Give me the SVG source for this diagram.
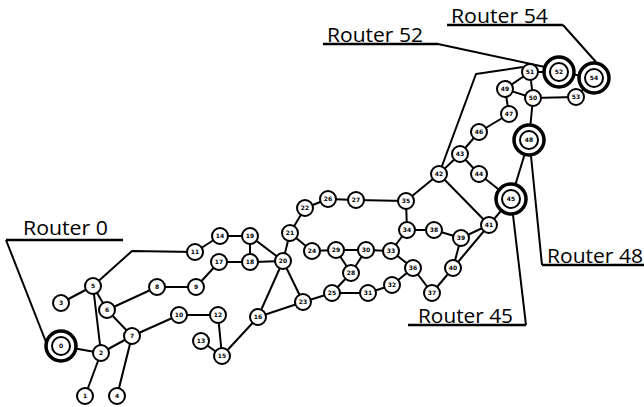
<svg xmlns="http://www.w3.org/2000/svg" width="644" height="407" viewBox="0 0 644 407">
<style>
.e{stroke:#000;stroke-width:2;fill:none;stroke-linejoin:round}
.c{stroke:#000;stroke-width:2;fill:none}
.n circle{fill:#fff;stroke:#000;stroke-width:2}
.n text{font-family:"DejaVu Sans",sans-serif;font-size:6px;font-weight:bold;text-anchor:middle;fill:#000}
.r .ring{stroke-width:3.5}
.lbl{font-family:"Open Sans","Liberation Sans",sans-serif;font-size:20px;fill:#000}
.ul{stroke:#000;stroke-width:2.5}
</style>
<rect width="644" height="407" fill="#fff"/>
<g id="connectors">
<line class="e" x1="61" y1="346" x2="101" y2="353"/>
<line class="e" x1="85" y1="396" x2="101" y2="353"/>
<line class="e" x1="101" y1="353" x2="93" y2="286"/>
<line class="e" x1="101" y1="353" x2="132" y2="336"/>
<line class="e" x1="61" y1="303" x2="93" y2="286"/>
<line class="e" x1="93" y1="286" x2="107" y2="310"/>
<line class="e" x1="107" y1="310" x2="132" y2="336"/>
<line class="e" x1="107" y1="310" x2="157" y2="287"/>
<line class="e" x1="117" y1="396" x2="132" y2="336"/>
<line class="e" x1="132" y1="336" x2="179" y2="315"/>
<polyline class="e" points="93,286 132,251 195,252"/>
<line class="e" x1="157" y1="287" x2="196" y2="287"/>
<line class="e" x1="196" y1="287" x2="219" y2="262"/>
<line class="e" x1="179" y1="315" x2="218" y2="315"/>
<line class="e" x1="218" y1="315" x2="222" y2="356"/>
<line class="e" x1="201" y1="341" x2="222" y2="356"/>
<line class="e" x1="222" y1="356" x2="258" y2="317"/>
<line class="e" x1="258" y1="317" x2="283" y2="261"/>
<line class="e" x1="258" y1="317" x2="303" y2="302"/>
<line class="e" x1="195" y1="252" x2="220" y2="236"/>
<line class="e" x1="220" y1="236" x2="250" y2="236"/>
<line class="e" x1="250" y1="236" x2="250" y2="262"/>
<line class="e" x1="250" y1="236" x2="283" y2="261"/>
<line class="e" x1="219" y1="262" x2="250" y2="262"/>
<line class="e" x1="250" y1="262" x2="283" y2="261"/>
<line class="e" x1="283" y1="261" x2="290" y2="233"/>
<line class="e" x1="283" y1="261" x2="303" y2="302"/>
<line class="e" x1="290" y1="233" x2="305" y2="208"/>
<line class="e" x1="290" y1="233" x2="312" y2="251"/>
<line class="e" x1="305" y1="208" x2="328" y2="199"/>
<line class="e" x1="328" y1="199" x2="356" y2="200"/>
<line class="e" x1="356" y1="200" x2="406" y2="201"/>
<line class="e" x1="312" y1="251" x2="336" y2="250"/>
<line class="e" x1="336" y1="250" x2="366" y2="250"/>
<line class="e" x1="336" y1="250" x2="351" y2="273"/>
<line class="e" x1="351" y1="273" x2="366" y2="250"/>
<line class="e" x1="332" y1="293" x2="351" y2="273"/>
<line class="e" x1="303" y1="302" x2="332" y2="293"/>
<line class="e" x1="332" y1="293" x2="368" y2="293"/>
<line class="e" x1="368" y1="293" x2="392" y2="285"/>
<line class="e" x1="392" y1="285" x2="413" y2="268"/>
<line class="e" x1="366" y1="250" x2="391" y2="251"/>
<line class="e" x1="391" y1="251" x2="407" y2="230"/>
<line class="e" x1="391" y1="251" x2="413" y2="268"/>
<line class="e" x1="407" y1="230" x2="406" y2="201"/>
<line class="e" x1="407" y1="230" x2="434" y2="230"/>
<line class="e" x1="434" y1="230" x2="461" y2="238"/>
<line class="e" x1="461" y1="238" x2="453" y2="268"/>
<line class="e" x1="461" y1="238" x2="489" y2="225"/>
<line class="e" x1="453" y1="268" x2="489" y2="225"/>
<line class="e" x1="413" y1="268" x2="432" y2="293"/>
<line class="e" x1="432" y1="293" x2="453" y2="268"/>
<line class="e" x1="406" y1="201" x2="439" y2="174"/>
<line class="e" x1="439" y1="174" x2="489" y2="225"/>
<line class="e" x1="439" y1="174" x2="460" y2="154"/>
<line class="e" x1="460" y1="154" x2="479" y2="174"/>
<line class="e" x1="479" y1="174" x2="511" y2="199"/>
<line class="e" x1="511" y1="199" x2="489" y2="225"/>
<line class="e" x1="460" y1="154" x2="479" y2="132"/>
<line class="e" x1="479" y1="132" x2="509" y2="114"/>
<line class="e" x1="509" y1="114" x2="505" y2="89"/>
<line class="e" x1="505" y1="89" x2="530" y2="72"/>
<line class="e" x1="505" y1="89" x2="533" y2="98"/>
<line class="e" x1="533" y1="98" x2="530" y2="72"/>
<line class="e" x1="530" y1="72" x2="559" y2="72"/>
<line class="e" x1="533" y1="98" x2="576" y2="97"/>
<line class="e" x1="533" y1="98" x2="529" y2="140"/>
<line class="e" x1="529" y1="140" x2="511" y2="199"/>
<line class="e" x1="559" y1="72" x2="594" y2="78"/>
<line class="e" x1="576" y1="97" x2="594" y2="78"/>
<polyline class="e" points="439,174 476,74 523,67"/>
</g>
<g id="callouts">
<polyline class="c" points="6,240 46,342"/>
<line class="ul" x1="6" y1="240" x2="123" y2="240"/>
<text class="lbl" x="23" y="235" textLength="85" lengthAdjust="spacingAndGlyphs">Router 0</text>
<polyline class="c" points="438,44 545,67"/>
<line class="ul" x1="323" y1="44" x2="438" y2="44"/>
<text class="lbl" x="327" y="42" textLength="96" lengthAdjust="spacingAndGlyphs">Router 52</text>
<polyline class="c" points="563,25 596,62"/>
<line class="ul" x1="447" y1="25" x2="563" y2="25"/>
<text class="lbl" x="451" y="23" textLength="97" lengthAdjust="spacingAndGlyphs">Router 54</text>
<polyline class="c" points="542,265 531,156"/>
<line class="ul" x1="542" y1="265" x2="644" y2="265"/>
<text class="lbl" x="547" y="263" textLength="96" lengthAdjust="spacingAndGlyphs">Router 48</text>
<polyline class="c" points="526,325 513,215"/>
<line class="ul" x1="408" y1="325" x2="526" y2="325"/>
<text class="lbl" x="418" y="323" textLength="95" lengthAdjust="spacingAndGlyphs">Router 45</text>
</g>
<g id="node0" class="n r"><circle class="ring" cx="61" cy="346" r="15"/><circle cx="61" cy="346" r="9"/><text x="61" y="348">0</text></g>
<g id="node1" class="n"><circle cx="85" cy="396" r="8"/><text x="85" y="398">1</text></g>
<g id="node2" class="n"><circle cx="101" cy="353" r="8"/><text x="101" y="355">2</text></g>
<g id="node3" class="n"><circle cx="61" cy="303" r="8"/><text x="61" y="305">3</text></g>
<g id="node4" class="n"><circle cx="117" cy="396" r="8"/><text x="117" y="398">4</text></g>
<g id="node5" class="n"><circle cx="93" cy="286" r="8"/><text x="93" y="288">5</text></g>
<g id="node6" class="n"><circle cx="107" cy="310" r="8"/><text x="107" y="312">6</text></g>
<g id="node7" class="n"><circle cx="132" cy="336" r="8"/><text x="132" y="338">7</text></g>
<g id="node8" class="n"><circle cx="157" cy="287" r="8"/><text x="157" y="289">8</text></g>
<g id="node9" class="n"><circle cx="196" cy="287" r="8"/><text x="196" y="289">9</text></g>
<g id="node10" class="n"><circle cx="179" cy="315" r="8"/><text x="179" y="317">10</text></g>
<g id="node11" class="n"><circle cx="195" cy="252" r="8"/><text x="195" y="254">11</text></g>
<g id="node12" class="n"><circle cx="218" cy="315" r="8"/><text x="218" y="317">12</text></g>
<g id="node13" class="n"><circle cx="201" cy="341" r="8"/><text x="201" y="343">13</text></g>
<g id="node14" class="n"><circle cx="220" cy="236" r="8"/><text x="220" y="238">14</text></g>
<g id="node15" class="n"><circle cx="222" cy="356" r="8"/><text x="222" y="358">15</text></g>
<g id="node16" class="n"><circle cx="258" cy="317" r="8"/><text x="258" y="319">16</text></g>
<g id="node17" class="n"><circle cx="219" cy="262" r="8"/><text x="219" y="264">17</text></g>
<g id="node18" class="n"><circle cx="250" cy="262" r="8"/><text x="250" y="264">18</text></g>
<g id="node19" class="n"><circle cx="250" cy="236" r="8"/><text x="250" y="238">19</text></g>
<g id="node20" class="n"><circle cx="283" cy="261" r="8"/><text x="283" y="263">20</text></g>
<g id="node21" class="n"><circle cx="290" cy="233" r="8"/><text x="290" y="235">21</text></g>
<g id="node22" class="n"><circle cx="305" cy="208" r="8"/><text x="305" y="210">22</text></g>
<g id="node23" class="n"><circle cx="303" cy="302" r="8"/><text x="303" y="304">23</text></g>
<g id="node24" class="n"><circle cx="312" cy="251" r="8"/><text x="312" y="253">24</text></g>
<g id="node25" class="n"><circle cx="332" cy="293" r="8"/><text x="332" y="295">25</text></g>
<g id="node26" class="n"><circle cx="328" cy="199" r="8"/><text x="328" y="201">26</text></g>
<g id="node27" class="n"><circle cx="356" cy="200" r="8"/><text x="356" y="202">27</text></g>
<g id="node28" class="n"><circle cx="351" cy="273" r="8"/><text x="351" y="275">28</text></g>
<g id="node29" class="n"><circle cx="336" cy="250" r="8"/><text x="336" y="252">29</text></g>
<g id="node30" class="n"><circle cx="366" cy="250" r="8"/><text x="366" y="252">30</text></g>
<g id="node31" class="n"><circle cx="368" cy="293" r="8"/><text x="368" y="295">31</text></g>
<g id="node32" class="n"><circle cx="392" cy="285" r="8"/><text x="392" y="287">32</text></g>
<g id="node33" class="n"><circle cx="391" cy="251" r="8"/><text x="391" y="253">33</text></g>
<g id="node34" class="n"><circle cx="407" cy="230" r="8"/><text x="407" y="232">34</text></g>
<g id="node35" class="n"><circle cx="406" cy="201" r="8"/><text x="406" y="203">35</text></g>
<g id="node36" class="n"><circle cx="413" cy="268" r="8"/><text x="413" y="270">36</text></g>
<g id="node37" class="n"><circle cx="432" cy="293" r="8"/><text x="432" y="295">37</text></g>
<g id="node38" class="n"><circle cx="434" cy="230" r="8"/><text x="434" y="232">38</text></g>
<g id="node39" class="n"><circle cx="461" cy="238" r="8"/><text x="461" y="240">39</text></g>
<g id="node40" class="n"><circle cx="453" cy="268" r="8"/><text x="453" y="270">40</text></g>
<g id="node41" class="n"><circle cx="489" cy="225" r="8"/><text x="489" y="227">41</text></g>
<g id="node42" class="n"><circle cx="439" cy="174" r="8"/><text x="439" y="176">42</text></g>
<g id="node43" class="n"><circle cx="460" cy="154" r="8"/><text x="460" y="156">43</text></g>
<g id="node44" class="n"><circle cx="479" cy="174" r="8"/><text x="479" y="176">44</text></g>
<g id="node45" class="n r"><circle class="ring" cx="511" cy="199" r="15"/><circle cx="511" cy="199" r="9"/><text x="511" y="201">45</text></g>
<g id="node46" class="n"><circle cx="479" cy="132" r="8"/><text x="479" y="134">46</text></g>
<g id="node47" class="n"><circle cx="509" cy="114" r="8"/><text x="509" y="116">47</text></g>
<g id="node48" class="n r"><circle class="ring" cx="529" cy="140" r="15"/><circle cx="529" cy="140" r="9"/><text x="529" y="142">48</text></g>
<g id="node49" class="n"><circle cx="505" cy="89" r="8"/><text x="505" y="91">49</text></g>
<g id="node50" class="n"><circle cx="533" cy="98" r="8"/><text x="533" y="100">50</text></g>
<g id="node51" class="n"><circle cx="530" cy="72" r="8"/><text x="530" y="74">51</text></g>
<g id="node52" class="n r"><circle class="ring" cx="559" cy="72" r="15"/><circle cx="559" cy="72" r="9"/><text x="559" y="74">52</text></g>
<g id="node53" class="n"><circle cx="576" cy="97" r="8"/><text x="576" y="99">53</text></g>
<g id="node54" class="n r"><circle class="ring" cx="594" cy="78" r="15"/><circle cx="594" cy="78" r="9"/><text x="594" y="80">54</text></g>
</svg>
